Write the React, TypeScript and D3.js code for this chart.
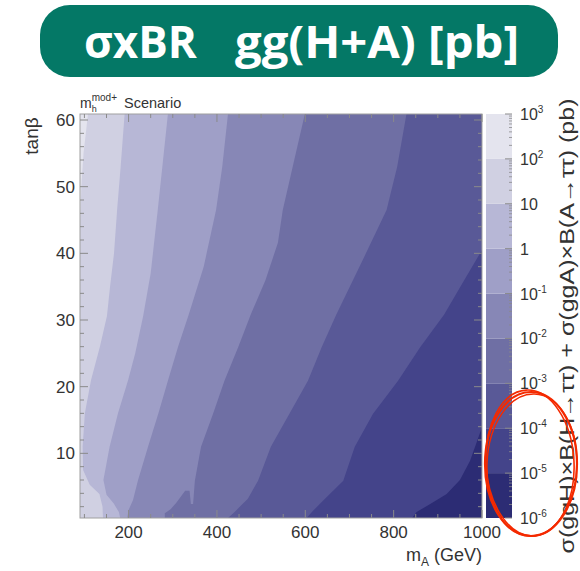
import React from 'react';
import * as d3 from 'd3';

// axis ticks
const xTicks = [200, 400, 600, 800, 1000];
const yTicks = [10, 20, 30, 40, 50, 60];
const barExps = [-6, -5, -4, -3, -2, -1, 0, 1, 2, 3];

// band colours, from lowest band (1e-6..1e-5) up to 1e2..1e3
const bandColors = ['#2c2c74', '#44448a', '#595997', '#6f6fa4', '#8787b6', '#9f9fc7', '#b7b7d6', '#d0d0e2', '#e4e4ee'];

// contour lines, [mA, tanb], from bottom to top
const c1em5 = [[842, 0.3], [852, 1.2], [880, 2.3], [920, 3.9], [950, 6], [973, 8.9], [1000, 13.9]];
const c1em4 = [[603, 0.3], [615, 1.2], [640, 2.9], [686, 5.9], [712, 11], [753, 15.9], [810, 20.9], [860, 25.9], [914, 30.8], [960, 36], [1000, 40.5]];
const c1em3 = [[425, 0.3], [440, 1.2], [455, 2.2], [470, 3.2], [493, 5.9], [522, 11], [551, 14.4], [606, 20.9], [637, 25.9], [670, 30.8], [730, 39], [784, 46.5], [808, 53], [829, 60.9]];
const c1em2 = [[282, 0.3], [282, 1.0], [295, 1.6], [308, 2.6], [318, 3.5], [328, 4.4], [338, 4.4], [341, 2.4], [346, 2.4], [350, 5.9], [364, 11], [391, 15.9], [417, 20.9], [448, 25.9], [477, 30.9], [510, 36], [538, 41.6], [549, 46.5], [575, 54], [599, 60.9]];
const c1em1 = [[197, 0.3], [200, 1.5], [210, 3], [221, 5.9], [244, 11], [267, 15.9], [289, 20.9], [312, 26], [336, 30.8], [370, 38], [398, 46.5], [412, 53], [425, 60.9]];
const c1e0 = [[181, 0.3], [178, 1.2], [166, 2.5], [150, 3.8], [143, 6], [157, 11], [176, 16], [199, 21], [215, 25], [233, 30.6], [250, 37], [266, 46.5], [278, 54], [289, 60.9]];
const c1e1 = [[142, 0.3], [141, 2], [134, 3.9], [112, 5.3], [97, 7.5], [96, 11], [101, 16], [115, 21], [135, 26], [151, 30.6], [158, 35], [167, 40], [174, 46.5], [182, 53], [191, 60.9]];
const c1e2 = [[90, 44], [93, 50], [98, 55], [104, 58.5], [108, 60.9]];

const contours = [c1em5, c1em4, c1em3, c1em2, c1em1, c1e0, c1e1, c1e2];

const W = 580;
const H = 571;
const left = 80, right = 482, top = 114, bottom = 518;
const font = '"Liberation Sans", Arial, sans-serif';

export default function App() {
  const x = d3.scaleLinear().domain([90, 1000]).range([left, right]);
  const y = d3.scaleLinear().domain([0.3, 60.9]).range([bottom, top]);
  const z = d3.scaleLog().domain([1e-6, 1e3]).range([bottom, top]);
  const [x0, x1] = x.domain();
  const [y0, y1] = y.domain();

  const line = d3.line<number[]>().x(d => x(d[0])).y(d => y(d[1]));

  // region where sigma is above the contour: left / upper-left of the line
  const region = (pts: number[][]) => {
    const out = pts.slice();
    const last = pts[pts.length - 1];
    if (last[0] >= x1 && last[1] < y1) out.push([x1, y1]);
    out.push([x0, y1]);
    if (pts[0][1] <= y0) out.push([x0, y0]);
    return line(out) + 'Z';
  };

  const yMinor = d3.range(2, 61, 2);
  const xMinor = d3.range(100, 1001, 50);
  const zMinor: number[] = [];
  for (let e = -6; e < 3; e++) for (let m = 2; m < 10; m++) zMinor.push(m * Math.pow(10, e));

  const barL = 486, barR = 512;
  const tickCol = '#8a8a8a';

  return (
    <svg width={W} height={H} style={{ position: 'absolute', left: 0, top: 0, background: '#fff' }}>
      {/* title badge */}
      <rect x={40} y={5} width={518} height={72} rx={30} fill="#047866" />
      <text x={84} y={58} fill="#fff" fontFamily='"Open Sans", sans-serif' fontWeight={700} fontSize={44}>σxBR</text>
      <text x={235} y={58} fill="#fff" fontFamily='"Open Sans", sans-serif' fontWeight={700} fontSize={44}
        textLength={284} lengthAdjust="spacingAndGlyphs">gg(H+A) [pb]</text>

      {/* scenario label */}
      <text x={80} y={108} fontFamily={font} fontSize={14} fill="#333">
        m<tspan dy={4} fontSize={9}>h</tspan><tspan dy={-11} dx={-5} fontSize={10}>mod+</tspan>
      </text>
      <text x={124} y={108} fontFamily={font} fontSize={14.5} fill="#333">Scenario</text>

      <defs>
        <clipPath id="plot-clip">
          <rect x={left} y={top} width={right - left} height={bottom - top} />
        </clipPath>
      </defs>

      {/* contour bands */}
      <g clipPath="url(#plot-clip)">
        <rect x={left} y={top} width={right - left} height={bottom - top} fill={bandColors[0]} />
        {contours.map((c, i) => (
          <path key={i} d={region(c)} fill={bandColors[i + 1]} />
        ))}
      </g>

      {/* frame and ticks */}
      <rect x={left} y={top} width={right - left} height={bottom - top} fill="none" stroke="#a0a0a0" strokeWidth={1} />
      {yMinor.map(v => {
        const len = v % 10 === 0 ? 8 : 4;
        return (
          <g key={'y' + v} stroke={tickCol} strokeWidth={1}>
            <line x1={left} x2={left + len} y1={y(v)} y2={y(v)} />
            <line x1={right} x2={right - len} y1={y(v)} y2={y(v)} />
          </g>
        );
      })}
      {xMinor.map(v => {
        const len = v % 200 === 0 ? 8 : 4;
        return (
          <g key={'x' + v} stroke={tickCol} strokeWidth={1}>
            <line x1={x(v)} x2={x(v)} y1={bottom} y2={bottom - len} />
            <line x1={x(v)} x2={x(v)} y1={top} y2={top + len} />
          </g>
        );
      })}

      {/* tick labels */}
      {yTicks.map(v => (
        <text key={'yl' + v} x={75} y={y(v) + 6} textAnchor="end" fontFamily={font} fontSize={17} fill="#333">{v}</text>
      ))}
      {xTicks.map(v => (
        <text key={'xl' + v} x={x(v)} y={538} textAnchor="middle" fontFamily={font} fontSize={17} fill="#333">{v}</text>
      ))}

      {/* axis titles */}
      <text transform="translate(38,136) rotate(-90)" textAnchor="middle" fontFamily={font} fontSize={19} fill="#333">tanβ</text>
      <text x={482} y={561} textAnchor="end" fontFamily={font} fontSize={18} fill="#333">
        m<tspan dy={5} fontSize={12}>A</tspan><tspan dy={-5}> (GeV)</tspan>
      </text>

      {/* colour bar */}
      {bandColors.map((c, i) => (
        <rect key={'b' + i} x={barL} width={barR - barL} y={z(Math.pow(10, i - 5))} height={z(Math.pow(10, i - 6)) - z(Math.pow(10, i - 5))} fill={c} />
      ))}
      {zMinor.map((v, i) => (
        <line key={'zm' + i} x1={barR} x2={barR - 3} y1={z(v)} y2={z(v)} stroke={tickCol} strokeWidth={0.8} />
      ))}
      {barExps.map(e => (
        <line key={'zt' + e} x1={barR} x2={barR - 7} y1={z(Math.pow(10, e))} y2={z(Math.pow(10, e))} stroke={tickCol} strokeWidth={1} />
      ))}
      {barExps.map(e => (
        <text key={'zl' + e} x={520} y={z(Math.pow(10, e)) + 6} fontFamily={font} fontSize={16} fill="#333">
          {e === 0 ? '1' : '10'}
          {e !== 0 && e !== 1 ? <tspan dy={-7} fontSize={10}>{String(e)}</tspan> : null}
        </text>
      ))}
      <text transform="translate(574,326) rotate(-90)" textAnchor="middle" fontFamily={font} fontSize={21} fill="#333"
        textLength={455} lengthAdjust="spacingAndGlyphs">
        σ(ggH)×B(H→ττ) + σ(ggA)×B(A→ττ) (pb)
      </text>

      {/* hand-drawn red ellipse */}
      <g fill="none" stroke="#f42a00">
        <ellipse cx={531} cy={464} rx={46} ry={72} strokeWidth={2.2} />
        <ellipse cx={530} cy={463} rx={44} ry={73} strokeWidth={1.6} transform="rotate(-3 530 463)" />
        <ellipse cx={532} cy={465} rx={45} ry={71} strokeWidth={1.4} transform="rotate(2 532 465)" />
      </g>
    </svg>
  );
}
